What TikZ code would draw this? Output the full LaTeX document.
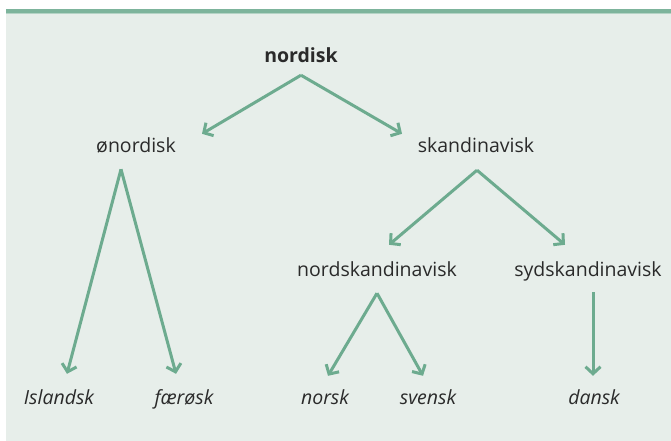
\documentclass[tikz,border=0pt]{standalone}
\usepackage{fontspec}
\setmainfont{Open Sans}
\usetikzlibrary{arrows.meta}
\definecolor{panelgreen}{HTML}{E7EEEA}
\definecolor{rulegreen}{HTML}{7DB49C}
\definecolor{rulelight}{HTML}{B4D3C5}
\definecolor{arrowgreen}{HTML}{6DAB8F}
\definecolor{textgrey}{HTML}{2A2A2A}
\tikzset{
  lang/.style={inner sep=0pt, text height=12pt, text depth=4pt, text=textgrey,
    font=\fontsize{19.5}{22}\selectfont},
  leaf/.style={lang, font=\fontsize{19.5}{22}\selectfont\itshape},
  arr/.style={draw=arrowgreen, line width=3pt,
    -{Straight Barb[length=7pt, width=15pt]}}
}

\begin{document}
\begin{tikzpicture}[x=1pt, y=-1pt]
	%%%%% PANEL %%%%%
	\useasboundingbox (0,0) rectangle (671,441);
	\fill[panelgreen] (6,13) rectangle (671,441);
	\fill[rulegreen] (6,9) rectangle (671,13);
	\fill[rulelight] (6,13) rectangle (671,14.5);
	
	%%%%% NAMES %%%%%
	\node[lang, font=\fontsize{19.5}{22}\selectfont\bfseries] (nordisk) at (301, 59) {nordisk};
	
	\node[lang] (onordisk) at (136, 148) {ønordisk};
	\node[lang] (skand) at (476, 148) {skandinavisk};
	
	\node[lang] (nordskand) at (377, 272) {nordskandinavisk};
	\node[lang] (sydskand) at (588, 272) {sydskandinavisk};
	
	\node[leaf] (islandsk) at (59, 400) {Islandsk};
	\node[leaf] (faerosk) at (184, 400) {færøsk};
	\node[leaf] (norsk) at (325, 400) {norsk};
	\node[leaf] (svensk) at (428, 400) {svensk};
	\node[leaf] (dansk) at (594, 400) {dansk};
	
	%%%%% ARROWS %%%%%
	\draw[arr] ([yshift=-8pt]nordisk.south) -- ([xshift=66pt, yshift=6pt]onordisk.north);
	\draw[arr] ([yshift=-8pt]nordisk.south) -- ([xshift=-74pt, yshift=6pt]skand.north);
	
	\draw[arr] ([xshift=-15pt, yshift=-13pt]onordisk.south) -- ([xshift=8pt, yshift=18pt]islandsk.north);
	\draw[arr] ([xshift=-15pt, yshift=-13pt]onordisk.south) -- ([xshift=-8pt, yshift=18pt]faerosk.north);
	
	\draw[arr] ([xshift=1pt, yshift=-14pt]skand.south) -- ([xshift=12pt, yshift=19pt]nordskand.north);
	\draw[arr] ([xshift=1pt, yshift=-14pt]skand.south) -- ([xshift=-23pt, yshift=19pt]sydskand.north);
	
	\draw[arr] ([yshift=-13pt]nordskand.south) -- ([xshift=3pt, yshift=16pt]norsk.north);
	\draw[arr] ([yshift=-13pt]nordskand.south) -- ([xshift=-5pt, yshift=16pt]svensk.north);
	
	\draw[arr] ([xshift=5pt, yshift=-12pt]sydskand.south) -- ([xshift=-1pt, yshift=16pt]dansk.north);
\end{tikzpicture}
\end{document}
